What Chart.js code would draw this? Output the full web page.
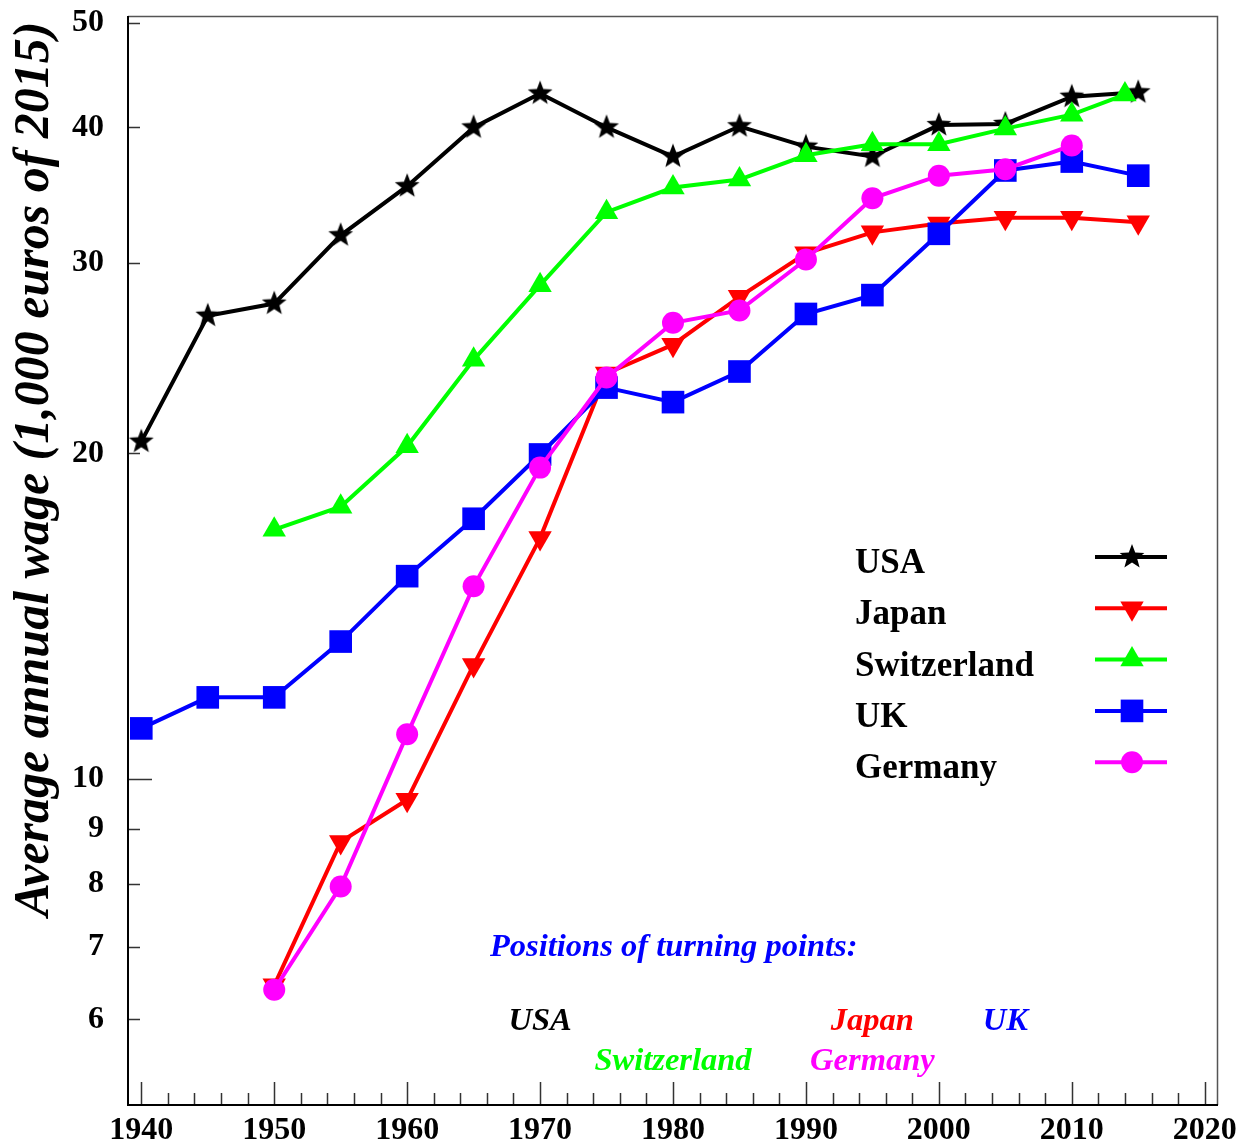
<!DOCTYPE html>
<html>
<head>
<meta charset="utf-8">
<script src="https://cdn.jsdelivr.net/npm/chart.js@4/dist/chart.umd.min.js"></script>
<style>
  html, body { margin: 0; padding: 0; background: #fff; }
</style>
</head>
<body>
<canvas id="wage-chart" width="1244" height="1147"></canvas>
<script>
// values (1,000 euros of 2015)
const usaYears = [1940, 1945, 1950, 1955, 1960, 1965, 1970, 1975, 1980, 1985, 1990, 1995, 2000, 2005, 2010, 2015];
const usaWage = [20.5, 26.8, 27.5, 31.8, 35.3, 40.0, 43.0, 40.0, 37.6, 40.1, 38.4, 37.6, 40.2, 40.3, 42.7, 43.1];

const japanYears = [1950, 1955, 1960, 1965, 1970, 1975, 1980, 1985, 1990, 1995, 2000, 2005, 2010, 2015];
const japanWage = [6.45, 8.75, 9.57, 12.75, 16.7, 23.7, 25.2, 27.9, 30.6, 32.0, 32.6, 33.0, 33.0, 32.7];

const swissYears = [1950, 1955, 1960, 1965, 1970, 1975, 1980, 1985, 1990, 1995, 2000, 2005, 2010, 2014];
const swissWage = [17.0, 17.85, 20.3, 24.4, 28.6, 33.4, 35.2, 35.8, 37.7, 38.6, 38.6, 39.9, 41.1, 42.9];

const ukYears = [1940, 1945, 1950, 1955, 1960, 1965, 1970, 1975, 1980, 1985, 1990, 1995, 2000, 2005, 2010, 2015];
const ukWage = [11.14, 11.9, 11.9, 13.4, 15.4, 17.4, 19.95, 23.0, 22.3, 23.8, 26.9, 28.0, 31.9, 36.5, 37.2, 36.1];

const germanyYears = [1950, 1955, 1960, 1965, 1970, 1975, 1980, 1985, 1990, 1995, 2000, 2005, 2010];
const germanyWage = [6.39, 7.96, 11.0, 15.07, 19.4, 23.5, 26.4, 27.1, 30.2, 34.4, 36.1, 36.6, 38.5];

const xTickLabels = [1940, 1950, 1960, 1970, 1980, 1990, 2000, 2010, 2020];
const yTickLabels = [6, 7, 8, 9, 10, 20, 30, 40, 50];

// turning point years printed under the curves
const turningNames = ['USA', 'Japan', 'UK', 'Switzerland', 'Germany'];
const turningYears = [1970, 1995, 2005, 1980, 1995];
const turningColors = ['#000000', '#ff0000', '#0000ff', '#00ff00', '#ff00ff'];
const turningRows = [0, 0, 0, 1, 1];

const serif = '"Liberation Serif", "Times New Roman", serif';

function toPoints(xs, ys) {
  return xs.map((x, i) => ({ x: x, y: ys[i] }));
}

// filled five-point star, chart.js only has an outline one
function makeStar(r, color) {
  const c = document.createElement('canvas');
  const s = Math.ceil(r * 2 + 2);
  c.width = s; c.height = s;
  const g = c.getContext('2d');
  g.fillStyle = color;
  g.beginPath();
  for (let i = 0; i < 10; i++) {
    const rad = i % 2 === 0 ? r : r * 0.42;
    const a = -Math.PI / 2 + i * Math.PI / 5;
    const px = s / 2 + rad * Math.cos(a);
    const py = s / 2 + rad * Math.sin(a);
    if (i === 0) g.moveTo(px, py); else g.lineTo(px, py);
  }
  g.closePath();
  g.fill();
  return c;
}
const starImg = makeStar(13, '#000000');

function series(label, xs, ys, color, style, radius, rotation, order) {
  return {
    label: label,
    data: toPoints(xs, ys),
    borderColor: color,
    backgroundColor: color,
    borderWidth: 4,
    pointStyle: style,
    pointRadius: radius,
    pointRotation: rotation,
    pointBackgroundColor: color,
    pointBorderWidth: 0,
    tension: 0,
    fill: false,
    order: order
  };
}

function drawMarker(ctx, ds, x, y) {
  const style = ds.pointStyle;
  const r = ds.pointRadius;
  ctx.fillStyle = ds.backgroundColor;
  if (typeof style === 'object') {
    ctx.drawImage(style, x - style.width / 2, y - style.height / 2);
    return;
  }
  ctx.beginPath();
  if (style === 'circle') {
    ctx.arc(x, y, r, 0, Math.PI * 2);
  } else if (style === 'rect') {
    const h = r * Math.SQRT1_2;
    ctx.rect(x - h, y - h, 2 * h, 2 * h);
  } else if (style === 'triangle') {
    let a = (ds.pointRotation || 0) * Math.PI / 180;
    ctx.moveTo(x + Math.sin(a) * r, y - Math.cos(a) * r);
    a += 2 * Math.PI / 3;
    ctx.lineTo(x + Math.sin(a) * r, y - Math.cos(a) * r);
    a += 2 * Math.PI / 3;
    ctx.lineTo(x + Math.sin(a) * r, y - Math.cos(a) * r);
    ctx.closePath();
  }
  ctx.fill();
}

const decorations = {
  id: 'decorations',
  beforeDatasetsDraw(chart) {
    const { ctx, chartArea: a, scales: { x, y } } = chart;
    ctx.save();
    ctx.strokeStyle = '#333';
    ctx.lineWidth = 1.5;
    ctx.beginPath();
    for (let yr = 1940; yr <= 2020; yr += 2) {
      const px = Math.round(x.getPixelForValue(yr)) + 0.5;
      const len = yr % 10 === 0 ? 23 : 12;
      ctx.moveTo(px, a.bottom);
      ctx.lineTo(px, a.bottom - len);
    }
    yTickLabels.forEach(v => {
      const py = Math.round(y.getPixelForValue(v)) + 0.5;
      const len = v === 10 ? 24 : 12;
      ctx.moveTo(a.left, py);
      ctx.lineTo(a.left + len, py);
    });
    ctx.stroke();

    // frame
    ctx.lineWidth = 1.5;
    ctx.strokeStyle = '#555';
    ctx.beginPath();
    ctx.moveTo(a.left, a.top + 0.5);
    ctx.lineTo(a.right - 0.5, a.top + 0.5);
    ctx.lineTo(a.right - 0.5, a.bottom);
    ctx.stroke();
    ctx.lineWidth = 2;
    ctx.strokeStyle = '#000';
    ctx.beginPath();
    ctx.moveTo(a.left, a.top);
    ctx.lineTo(a.left, a.bottom);
    ctx.lineTo(a.right, a.bottom);
    ctx.stroke();
    ctx.restore();
  },
  afterDraw(chart) {
    const { ctx, chartArea: a, scales: { x, y } } = chart;
    ctx.save();

    // y axis title
    ctx.translate(48, 469);
    ctx.rotate(-Math.PI / 2);
    ctx.font = 'italic bold 50px ' + serif;
    ctx.fillStyle = '#000';
    ctx.textAlign = 'center';
    ctx.textBaseline = 'alphabetic';
    ctx.fillText('Average annual wage (1,000 euros of 2015)', 0, 0);
    ctx.restore();

    // legend
    ctx.save();
    const legendOrder = ['USA', 'Japan', 'Switzerland', 'UK', 'Germany'];
    legendOrder.forEach((name, i) => {
      const ds = chart.data.datasets.find(d => d.label === name);
      const rowY = 557 + i * 51.3;
      ctx.font = 'bold 35px ' + serif;
      ctx.fillStyle = '#000';
      ctx.textAlign = 'left';
      ctx.textBaseline = 'alphabetic';
      ctx.fillText(name, 855, rowY + 16);
      ctx.strokeStyle = ds.borderColor;
      ctx.lineWidth = 4;
      ctx.beginPath();
      ctx.moveTo(1095, rowY);
      ctx.lineTo(1167, rowY);
      ctx.stroke();
      drawMarker(ctx, ds, 1132, rowY);
    });

    // turning points note
    ctx.font = 'italic bold 32.5px ' + serif;
    ctx.textBaseline = 'alphabetic';
    ctx.textAlign = 'left';
    ctx.fillStyle = '#0000ff';
    ctx.fillText('Positions of turning points:', 490, 956);
    ctx.textAlign = 'center';
    turningNames.forEach((name, i) => {
      ctx.fillStyle = turningColors[i];
      ctx.fillText(name, x.getPixelForValue(turningYears[i]), 1030 + turningRows[i] * 40);
    });
    ctx.restore();
  }
};

const ctx = document.getElementById('wage-chart').getContext('2d');
const wageChart = new Chart(ctx, {
  type: 'line',
  data: {
    datasets: [
      series('USA', usaYears, usaWage, '#000000', starImg, 13, 0, 5),
      series('Japan', japanYears, japanWage, '#ff0000', 'triangle', 13.5, 180, 4),
      series('Switzerland', swissYears, swissWage, '#00ff00', 'triangle', 13.5, 0, 3),
      series('UK', ukYears, ukWage, '#0000ff', 'rect', 16, 0, 2),
      series('Germany', germanyYears, germanyWage, '#ff00ff', 'circle', 11, 0, 1)
    ]
  },
  options: {
    responsive: false,
    animation: false,
    devicePixelRatio: 1,
    layout: { padding: { top: 10, right: 26, left: 0, bottom: 0 } },
    plugins: {
      legend: { display: false },
      tooltip: { enabled: false }
    },
    scales: {
      x: {
        type: 'linear',
        min: 1939,
        max: 2021,
        grid: { display: false, drawTicks: false },
        border: { display: false },
        afterBuildTicks: s => { s.ticks = xTickLabels.map(v => ({ value: v })); },
        afterFit: s => { s.height = 42; s.paddingLeft = 0; s.paddingRight = 0; },
        ticks: {
          autoSkip: false,
          maxRotation: 0,
          padding: 7,
          color: '#000',
          font: { family: serif, weight: 'bold', size: 32 },
          callback: v => String(v)
        }
      },
      y: {
        type: 'logarithmic',
        min: 5,
        max: 50.7,
        grid: { display: false, drawTicks: false },
        border: { display: false },
        afterBuildTicks: s => { s.ticks = yTickLabels.map(v => ({ value: v })); },
        afterFit: s => { s.width = 128; s.paddingTop = 0; s.paddingBottom = 0; },
        ticks: {
          autoSkip: false,
          padding: 24,
          color: '#000',
          font: { family: serif, weight: 'bold', size: 32 },
          callback: v => String(v)
        }
      }
    }
  },
  plugins: [decorations]
});
</script>
</body>
</html>
